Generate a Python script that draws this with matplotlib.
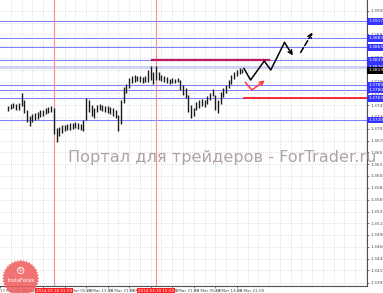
import numpy as np
import matplotlib
matplotlib.use('Agg')
import matplotlib.pyplot as plt
from matplotlib.transforms import blended_transform_factory

# hourly bars, hours counted from 17 Mar 13:00
bar_hours = np.arange(-5, 83)
bar_high = [1.3748, 1.3752, 1.3754, 1.3752, 1.3754, 1.3774, 1.3760, 1.3740, 1.3728, 1.3732,
            1.3734, 1.3736, 1.3740, 1.3740, 1.3744, 1.3746, 1.3748, 1.3744, 1.3704, 1.3706,
            1.3710, 1.3710, 1.3712, 1.3714, 1.3714, 1.3716, 1.3714, 1.3712, 1.3720, 1.3764,
            1.3760, 1.3750, 1.3744, 1.3750, 1.3752, 1.3750, 1.3748, 1.3748, 1.3746, 1.3744,
            1.3740, 1.3730, 1.3760, 1.3786, 1.3792, 1.3804, 1.3808, 1.3810, 1.3808, 1.3808,
            1.3806, 1.3808, 1.3820, 1.3828, 1.3816, 1.3828, 1.3816, 1.3810, 1.3808, 1.3806,
            1.3802, 1.3804, 1.3802, 1.3804, 1.3800, 1.3790, 1.3784, 1.3770, 1.3750, 1.3744,
            1.3756, 1.3760, 1.3762, 1.3760, 1.3768, 1.3774, 1.3782, 1.3770, 1.3760, 1.3776,
            1.3784, 1.3790, 1.3800, 1.3810, 1.3816, 1.3820, 1.3824, 1.3822]
bar_low = [1.3738, 1.3742, 1.3744, 1.3740, 1.3740, 1.3748, 1.3734, 1.3716, 1.3708, 1.3716,
           1.3720, 1.3722, 1.3726, 1.3728, 1.3732, 1.3734, 1.3736, 1.3692, 1.3676, 1.3688,
           1.3694, 1.3698, 1.3700, 1.3700, 1.3702, 1.3704, 1.3702, 1.3700, 1.3698, 1.3720,
           1.3736, 1.3728, 1.3724, 1.3736, 1.3740, 1.3738, 1.3736, 1.3734, 1.3732, 1.3728,
           1.3724, 1.3698, 1.3712, 1.3754, 1.3774, 1.3784, 1.3794, 1.3796, 1.3798, 1.3796,
           1.3794, 1.3796, 1.3796, 1.3800, 1.3792, 1.3800, 1.3800, 1.3798, 1.3796, 1.3794,
           1.3792, 1.3794, 1.3794, 1.3796, 1.3780, 1.3770, 1.3764, 1.3736, 1.3724, 1.3728,
           1.3740, 1.3744, 1.3748, 1.3746, 1.3752, 1.3760, 1.3768, 1.3740, 1.3734, 1.3752,
           1.3766, 1.3774, 1.3784, 1.3792, 1.3802, 1.3808, 1.3812, 1.3814]

# horizontal price levels
blue_levels = [1.3917, 1.3883, 1.3865, 1.3839, 1.3789, 1.3780, 1.3763, 1.3720]
band_level = 1.3826
current_price = 1.3819
resist_level, resist_from, resist_to = 1.3839, 48.6, 92.0
support_level, support_from, support_to = 1.3763, 82.5, 128.0

# vertical date markers
vline_hours = [12, 50]
vline_labels = ['2014.03.18 01:00', '2014.03.19 15:00']

# forecast paths
fc_main_h = [82.65, 85.1, 90.2, 92.6, 97.7, 100.8]
fc_main_p = [1.3823, 1.3800, 1.3838, 1.3820, 1.3875, 1.3849]
fc_dash_h = [103.7, 108.1]
fc_dash_p = [1.3855, 1.3895]
fc_alt_h = [83.2, 85.6, 90.4]
fc_alt_p = [1.3795, 1.3780, 1.3799]

# axes ticks
price_ticks = [1.3938, 1.3914, 1.3891, 1.3867, 1.3844, 1.3820, 1.3796, 1.3773, 1.3749, 1.3726,
               1.3702, 1.3678, 1.3655, 1.3631, 1.3608, 1.3584, 1.3560, 1.3537, 1.3513, 1.3490,
               1.3466, 1.3442, 1.3419, 1.3395]
time_ticks = [-8, 0, 8, 16, 24, 32, 40, 48, 56, 64, 72, 80]
time_labels = ['17 Mar 05:00', '17 Mar 13:00', '17 Mar 21:00', '18 Mar 05:00', '18 Mar 13:00',
               '18 Mar 21:00', '19 Mar 05:00', '19 Mar 13:00', '19 Mar 21:00', '20 Mar 05:00',
               '20 Mar 13:00', '20 Mar 21:00']

W, H = 383, 293
fig = plt.figure(figsize=(W / 100, H / 100), dpi=100)
ax = fig.add_axes([0, 7 / H, 367 / W, 286 / H])
ax.set_xlim(-14 / 2.75, 353 / 2.75)
ax.set_ylim(1.3960 - 0.0002 * 286, 1.3960)

# grid
for h in range(-4, 132, 4):
    ax.axvline(h, color='#c4c4c4', lw=0.5, ls=(0, (1, 2)), zorder=0)
for p in price_ticks:
    ax.axhline(p, color='#c4c4c4', lw=0.5, ls=(0, (1, 2)), zorder=0)

# levels
for p in blue_levels:
    ax.axhline(p, color='#8080ff', lw=0.75, zorder=1)
ax.axhline(band_level, color='#d2d2f6', lw=2.2, zorder=1)
for h in vline_hours:
    ax.axvline(h, color='#ff8a8a', lw=0.8, zorder=1)
ax.plot([resist_from, resist_to], [resist_level] * 2, color='#c0185c', lw=1.6, zorder=2)
ax.plot([support_from, support_to], [support_level] * 2, color='#ff1010', lw=1.2, zorder=2)

# price bars
ax.vlines(bar_hours, bar_low, bar_high, color='#1a1a1a', lw=1.0, zorder=3)

# forecasts
ax.plot(fc_main_h[:-1], fc_main_p[:-1], color='black', lw=1.1, zorder=4)
ax.annotate('', xy=(fc_main_h[-1], fc_main_p[-1]), xytext=(fc_main_h[-2], fc_main_p[-2]),
            arrowprops=dict(arrowstyle='->', color='black', lw=1.1, mutation_scale=7,
                            shrinkA=0, shrinkB=0), zorder=4)
ax.annotate('', xy=(fc_dash_h[1], fc_dash_p[1]), xytext=(fc_dash_h[0], fc_dash_p[0]),
            arrowprops=dict(arrowstyle='->', color='black', lw=1.1, ls='--', mutation_scale=7,
                            shrinkA=0, shrinkB=0), zorder=4)
ax.plot(fc_alt_h[:-1], fc_alt_p[:-1], color='#ff3a3a', lw=1.1, zorder=4)
ax.annotate('', xy=(fc_alt_h[-1], fc_alt_p[-1]), xytext=(fc_alt_h[-2], fc_alt_p[-2]),
            arrowprops=dict(arrowstyle='->', color='#ff3a3a', lw=1.1, mutation_scale=7,
                            shrinkA=0, shrinkB=0), zorder=4)

# axes styling
for s in ['top', 'left']:
    ax.spines[s].set_visible(False)
for s in ['right', 'bottom']:
    ax.spines[s].set_color('#505050')
    ax.spines[s].set_linewidth(0.8)
ax.yaxis.tick_right()
ax.set_yticks(price_ticks)
ax.set_yticklabels([f'{p:.4f}' for p in price_ticks])
ax.tick_params(axis='y', length=1.5, width=0.5, pad=1, labelsize=3.2, colors='#505050')
ax.set_xticks(time_ticks)
ax.set_xticklabels(time_labels, ha='left')
ax.tick_params(axis='x', length=1.5, width=0.5, pad=0.5, labelsize=3.0, colors='#505050')

# right-hand level labels
tr_y = blended_transform_factory(ax.transAxes, ax.transData)
for p in blue_levels + [band_level]:
    ax.text(1.004, p, f'{p:.4f}', transform=tr_y, fontsize=3.2, color='white', va='center',
            ha='left', clip_on=False, zorder=6,
            bbox=dict(facecolor='#3434ff', edgecolor='none', pad=0.8))
ax.text(1.004, current_price, f'{current_price:.4f}', transform=tr_y, fontsize=3.2,
        color='white', va='center', ha='left', clip_on=False, zorder=6,
        bbox=dict(facecolor='black', edgecolor='none', pad=0.8))

# date labels of the vertical lines
tr_x = blended_transform_factory(ax.transData, ax.transAxes)
for h, lab in zip(vline_hours, vline_labels):
    ax.text(h, -0.012, lab, transform=tr_x, fontsize=3.0, color='white', va='top', ha='center',
            clip_on=False, zorder=6, bbox=dict(facecolor='#ff2020', edgecolor='none', pad=0.8))

# overlay: watermark and logo in pixel coordinates
ov = fig.add_axes([0, 0, 1, 1], zorder=10)
ov.set_xlim(0, W)
ov.set_ylim(H, 0)
ov.axis('off')
ov.patch.set_alpha(0)
ov.text(67.5, 162, 'Портал для трейдеров - ForTrader.ru', fontsize=11.6, color='#a39393',
        alpha=0.85, ha='left', va='baseline')

ang = np.linspace(0, 2 * np.pi, 73)
rad = np.where(np.arange(73) % 2 == 0, 18.5, 16.8)
ov.fill(20.7 + rad * np.cos(ang), 278.3 + rad * np.sin(ang), color='#f05a5a', alpha=0.85,
        lw=0)
ov.add_patch(plt.Circle((20.7, 270.5), 3.2, fill=False, ec='white', lw=0.6))
ov.text(20.7, 270.7, 'Ψ', fontsize=3.5, color='white', ha='center', va='center')
ov.text(20.7, 280.5, 'InstaForex', fontsize=3.8, color='white', ha='center', va='center')

fig.savefig('out.png', dpi=100)
